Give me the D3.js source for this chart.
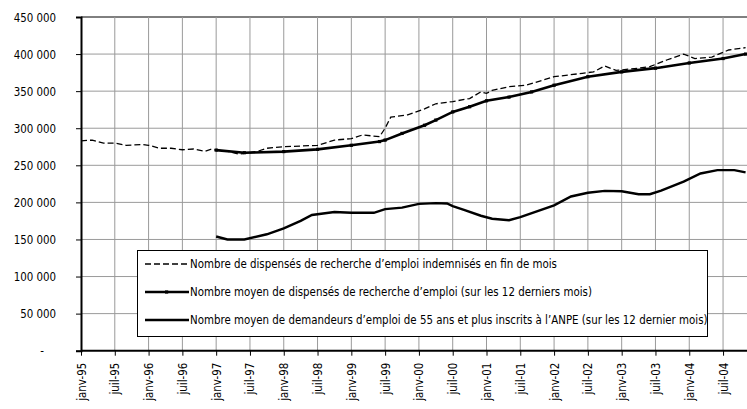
<!DOCTYPE html>
<html>
<head>
<meta charset="utf-8">
<script src="https://cdn.jsdelivr.net/npm/d3@7"></script>
<style>
  body { margin: 0; background: #fff; }
  svg text { font-family: "DejaVu Sans Condensed", Tahoma, sans-serif; font-size: 11.4px; fill: #000; }
</style>
</head>
<body>
<svg id="chart" width="747" height="409"></svg>
<script>
// tick labels of the category axis (one every 6 months)
const tickLabels = ["janv-95", "juil-95", "janv-96", "juil-96", "janv-97", "juil-97",
  "janv-98", "juil-98", "janv-99", "juil-99", "janv-00", "juil-00", "janv-01", "juil-01",
  "janv-02", "juil-02", "janv-03", "juil-03", "janv-04", "juil-04"];
const yTicks = [0, 50000, 100000, 150000, 200000, 250000, 300000, 350000, 400000, 450000];

// dispensés indemnisés en fin de mois (dashed)
const dispMonths = ["1995-01", "1995-03", "1995-05", "1995-07", "1995-09", "1995-12", "1996-01",
  "1996-03", "1996-05", "1996-07", "1996-09", "1996-11", "1996-12", "1997-03", "1997-05",
  "1997-08", "1997-10", "1998-01", "1998-04", "1998-07", "1998-10", "1999-01", "1999-03",
  "1999-06", "1999-07", "1999-08", "1999-11", "2000-02", "2000-04", "2000-07", "2000-10",
  "2000-12", "2001-01", "2001-02", "2001-05", "2001-08", "2002-01", "2002-06", "2002-08",
  "2002-10", "2002-12", "2003-04", "2003-06", "2003-09", "2003-12", "2004-02", "2004-05",
  "2004-08", "2004-11"];
const dispValues = [283000, 284000, 280000, 280000, 277000, 278000, 277000,
  273000, 273000, 271000, 272000, 269000, 271500, 269000, 265000,
  268000, 273000, 275000, 276000, 277000, 284000, 286000, 291000,
  288600, 300000, 315000, 318000, 326000, 333000, 336000, 340000,
  349000, 347000, 351000, 356000, 358000, 369500, 374000, 376000,
  384000, 378000, 381000, 383000, 392000, 400000, 394000, 396000,
  405500, 408600];

// nombre moyen de dispensés (12 derniers mois)
const moyMonths = ["1997-01", "1997-06", "1998-01", "1998-07", "1999-01", "1999-06", "1999-07",
  "1999-10", "2000-02", "2000-04", "2000-07", "2000-10", "2001-01", "2001-05", "2001-09",
  "2002-01", "2002-07", "2003-01", "2003-07", "2004-01", "2004-07", "2004-11"];
const moyValues = [270500, 267000, 268500, 271500, 277000, 282000, 284000,
  293000, 304000, 311000, 322000, 329000, 337000, 342000, 349000,
  358000, 369500, 376000, 381000, 388000, 394000, 400000];

// demandeurs d'emploi de 55 ans et plus (12 derniers mois)
const demMonths = ["1997-01", "1997-03", "1997-06", "1997-10", "1998-01", "1998-04", "1998-06",
  "1998-10", "1999-01", "1999-05", "1999-07", "1999-10", "2000-01", "2000-04", "2000-06",
  "2000-07", "2000-09", "2000-12", "2001-02", "2001-05", "2001-07", "2002-01", "2002-04",
  "2002-07", "2002-10", "2003-01", "2003-04", "2003-06", "2003-08", "2003-12", "2004-03",
  "2004-06", "2004-09", "2004-11"];
const demValues = [154000, 150000, 150000, 157000, 165000, 175000, 183000,
  187000, 186000, 186000, 191000, 193000, 198000, 199000, 198500,
  195000, 190000, 182000, 178000, 176000, 180000, 196000, 208000,
  213000, 215500, 215000, 211000, 211000, 216000, 228000, 239000,
  243500, 243500, 240500];

const legendLabels = [
  "Nombre de dispensés de recherche d’emploi indemnisés en fin de mois",
  "Nombre moyen de dispensés de recherche d’emploi (sur les 12 derniers mois)",
  "Nombre moyen de demandeurs d’emploi de 55 ans et plus inscrits à l’ANPE (sur les 12 dernier mois)"
];

const monthIndex = s => (+s.slice(0, 4) - 1995) * 12 + (+s.slice(5, 7) - 1);
const zip = (months, values) => months.map((m, i) => ({ m: monthIndex(m), v: values[i] }));

const margin = { left: 81, top: 17 };
const plotH = 333.7;
const monthW = 5.632;

const svg = d3.select("#chart");

const x = d3.scaleLinear().domain([0, 1]).range([margin.left, margin.left + monthW]);
const y = d3.scaleLinear().domain([0, 450000]).range([margin.top + plotH, margin.top]);
const xRight = 747;

// grid
const grid = svg.append("g");
grid.selectAll(".hg").data(yTicks.slice(1))
  .enter().append("line")
  .attr("x1", margin.left).attr("x2", xRight)
  .attr("y1", d => y(d)).attr("y2", d => y(d))
  .attr("stroke", d => d === 450000 ? "#000" : "#9a9a9a")
  .attr("stroke-width", 1);
grid.selectAll(".vg").data(tickLabels.slice(1))
  .enter().append("line")
  .attr("x1", (d, i) => x((i + 1) * 6)).attr("x2", (d, i) => x((i + 1) * 6))
  .attr("y1", y(450000)).attr("y2", y(0))
  .attr("stroke", "#9a9a9a")
  .attr("stroke-width", 1);

// y axis
const yAxis = svg.append("g")
  .attr("transform", "translate(" + margin.left + ",0)")
  .call(d3.axisLeft(y).tickValues(yTicks).tickSize(5).tickPadding(20)
    .tickFormat(d => d === 0 ? "" : d3.format(",")(d).replace(/,/g, " ")));
yAxis.select(".domain").attr("stroke-width", 2);
yAxis.selectAll("text").attr("x", -25).style("text-anchor", "end").attr("dy", "0.35em");
svg.append("text").attr("x", 42).attr("y", y(0)).attr("dy", "0.35em")
  .style("text-anchor", "middle").text("-");

// x axis
const xAxis = svg.append("g")
  .attr("transform", "translate(0," + y(0) + ")")
  .call(d3.axisBottom(x).tickValues(d3.range(0, tickLabels.length * 6, 6))
    .tickSize(5).tickSizeOuter(0)
    .tickFormat((d, i) => tickLabels[i]));
xAxis.select(".domain").attr("d", "M" + margin.left + ",0H" + xRight).attr("stroke-width", 2);
xAxis.selectAll("text")
  .attr("transform", "rotate(-90)")
  .attr("x", -12).attr("y", 0).attr("dy", "0.35em")
  .style("text-anchor", "end");

const line = d3.line().x(d => x(d.m)).y(d => y(d.v));

svg.append("path").datum(zip(dispMonths, dispValues))
  .attr("fill", "none").attr("stroke", "#000").attr("stroke-width", 1.3)
  .attr("stroke-dasharray", "6,3").attr("d", line);

const moy = zip(moyMonths, moyValues);
svg.append("path").datum(moy)
  .attr("fill", "none").attr("stroke", "#000").attr("stroke-width", 2.6)
  .attr("d", line);
svg.selectAll(".mk").data(moy).enter().append("rect")
  .attr("x", d => x(d.m) - 1.6).attr("y", d => y(d.v) - 1.6)
  .attr("width", 3.2).attr("height", 3.2).attr("fill", "#000");

svg.append("path").datum(zip(demMonths, demValues))
  .attr("fill", "none").attr("stroke", "#000").attr("stroke-width", 2.4)
  .attr("d", line);

// legend
const legend = svg.append("g");
legend.append("rect")
  .attr("x", 137.5).attr("y", 250.5).attr("width", 570).attr("height", 86)
  .attr("fill", "#fff").attr("stroke", "#000").attr("stroke-width", 1);
legendLabels.forEach((label, i) => {
  const ly = 264 + i * 28;
  const g = legend.append("g");
  const l = g.append("line").attr("x1", 145).attr("x2", 189).attr("y1", ly).attr("y2", ly)
    .attr("stroke", "#000");
  if (i === 0) l.attr("stroke-width", 1.3).attr("stroke-dasharray", "6,3");
  else l.attr("stroke-width", i === 1 ? 2.6 : 2.4);
  if (i === 1) g.append("rect").attr("x", 165).attr("y", ly - 1.6).attr("width", 3.2).attr("height", 3.2);
  g.append("text").attr("x", 190).attr("y", ly).attr("dy", "0.35em").text(label);
});
</script>
</body>
</html>
